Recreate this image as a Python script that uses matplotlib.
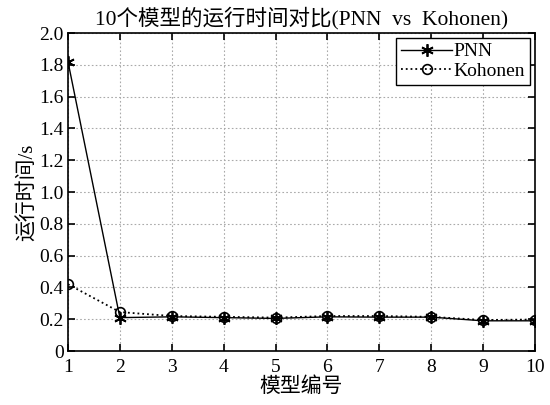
import matplotlib.pyplot as plt

plt.rcParams['font.family'] = ['Liberation Serif', 'Noto Sans CJK SC']
plt.rcParams['font.size'] = 14

models = [1, 2, 3, 4, 5, 6, 7, 8, 9, 10]
pnn = [1.82, 0.21, 0.215, 0.21, 0.205, 0.215, 0.213, 0.213, 0.19, 0.19]
kohonen = [0.42, 0.245, 0.22, 0.215, 0.21, 0.22, 0.22, 0.215, 0.195, 0.198]

fig = plt.figure(figsize=(5.5, 4.05), dpi=100)
ax = fig.add_axes([0.1236, 0.1333, 0.8491, 0.7852])

ax.plot(models, pnn, "k-", marker=(6, 2, 0), lw=1.0, ms=9, mew=1.3, label="PNN")
ax.plot(models, kohonen, "k:o", lw=1.3, ms=7, mfc="none", mew=1.2, label="Kohonen")

ax.set_xlim(1, 10)
ax.set_ylim(0, 2.0)
ax.set_xticks(models)
ax.set_yticks([0, 0.2, 0.4, 0.6, 0.8, 1.0, 1.2, 1.4, 1.6, 1.8, 2.0])
ax.set_yticklabels(["0", "0.2", "0.4", "0.6", "0.8", "1.0", "1.2", "1.4", "1.6", "1.8", "2.0"])
ax.tick_params(direction="in", length=5, width=1.2, labelsize=14,
               top=True, right=True)
ax.tick_params(axis="x", pad=6)
ax.tick_params(axis="y", pad=3)
for s in ax.spines.values():
    s.set_linewidth(1.2)

ax.grid(True, color="#aaaaaa", linestyle=(0, (1.5, 2)), lw=0.8)

ax.set_title("10个模型的运行时间对比(PNN  vs  Kohonen)", fontsize=15.5, pad=6)
ax.set_xlabel("模型编号", fontsize=15, labelpad=1)
ax.set_ylabel("运行时间/s", fontsize=15, labelpad=1)

leg = ax.legend(loc="upper right", fancybox=False, edgecolor="black", framealpha=1,
                handlelength=2.6, borderpad=0.25, labelspacing=0.1, borderaxespad=0.25,
                handletextpad=0.1, fontsize=14)
leg.get_frame().set_linewidth(1.0)

plt.savefig("out.png", dpi=100)
